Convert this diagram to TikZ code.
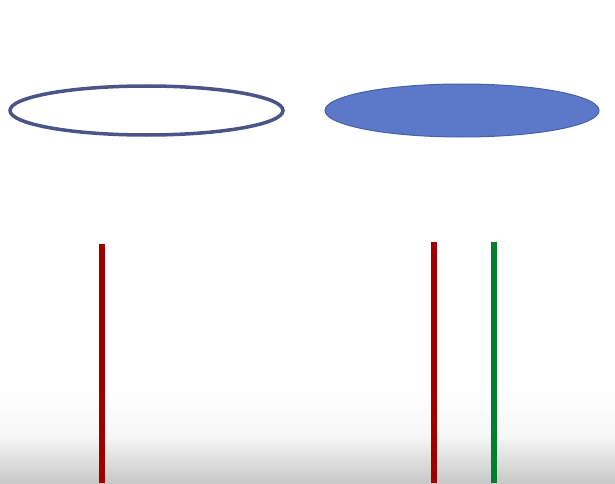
\documentclass[tikz,border=0pt]{standalone}
\usetikzlibrary{shapes.geometric}
\definecolor{ringcol}{HTML}{4B5487}
\definecolor{discfill}{HTML}{5B78C9}
\definecolor{discedge}{HTML}{4A60A6}
\definecolor{redline}{HTML}{A00000}
\definecolor{greenline}{HTML}{00802C}
\definecolor{floorgray}{HTML}{C8C8C8}
\tikzset{
  ring/.style={ellipse, draw=ringcol, line width=3.5pt, fill=white, inner sep=0pt},
  disc/.style={ellipse, draw=discedge, line width=1pt, fill=discfill, inner sep=0pt},
  rod/.style={line width=6.5pt}
}
\begin{document}
\begin{tikzpicture}[x=1pt,y=1pt]
\useasboundingbox (0,0) rectangle (615,483);
\fill[white] (0,0) rectangle (615,483);
\shade[top color=white, bottom color=floorgray, middle color=white!85!floorgray] (0,0) rectangle (615,95);
\node[ring, minimum width=273pt, minimum height=49pt] (ring) at (146.5,372.5) {};
\node[disc, minimum width=274pt, minimum height=53pt] (disc) at (462,372.5) {};
\coordinate (r1t) at (102,239);
\coordinate (r1b) at (102,0);
\coordinate (r2t) at (434,241);
\coordinate (r2b) at (434,0);
\coordinate (g1t) at (494,241);
\coordinate (g1b) at (494,0);
\draw[rod, redline] (r1t) -- (r1b);
\draw[rod, redline] (r2t) -- (r2b);
\draw[rod, greenline] (g1t) -- (g1b);
\end{tikzpicture}
\end{document}
